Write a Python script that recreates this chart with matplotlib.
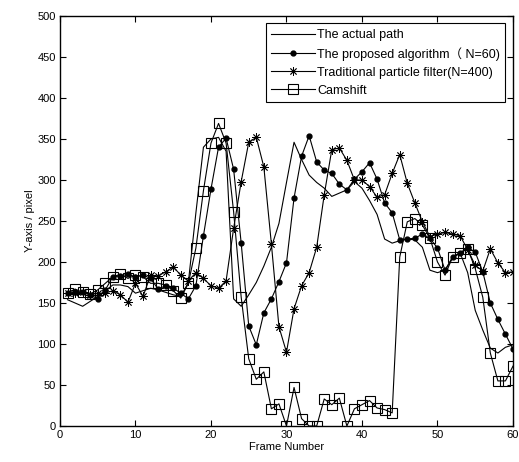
import matplotlib
matplotlib.use("Agg")
import matplotlib.pyplot as plt
import numpy as np

plt.rcParams['font.sans-serif'] = ['Liberation Sans']
plt.rcParams['font.family'] = ['sans-serif', 'Noto Sans CJK SC']

frames = list(range(1, 61))

actual_path = [154, 150, 146, 152, 158, 165, 172, 172, 170, 162,
               165, 168, 166, 163, 160, 158, 175, 260, 340, 350,
               352, 335, 155, 146, 160, 175, 195, 218, 247, 297,
               346, 325, 306, 297, 290, 280, 284, 288, 298, 290,
               275, 258, 228, 223, 226, 228, 227, 218, 190, 187,
               190, 205, 211, 187, 141, 117, 95, 89, 96, 99]

proposed = [162, 163, 164, 160, 155, 166, 182, 183, 185, 182,
            184, 180, 167, 171, 168, 162, 155, 171, 232, 289,
            340, 351, 313, 223, 122, 99, 138, 155, 176, 199,
            278, 329, 354, 322, 312, 308, 295, 288, 301, 310,
            321, 301, 272, 260, 227, 228, 229, 234, 229, 217,
            190, 206, 211, 218, 212, 188, 150, 130, 112, 94]

traditional = [162, 162, 163, 160, 162, 162, 165, 160, 151, 174,
               158, 184, 183, 188, 194, 184, 177, 187, 180, 171,
               168, 177, 241, 298, 346, 352, 316, 222, 121, 90,
               143, 171, 187, 218, 282, 337, 339, 324, 300, 300,
               292, 279, 282, 308, 331, 296, 272, 249, 231, 234,
               236, 234, 232, 215, 196, 189, 216, 199, 187, 188]

camshift = [162, 167, 163, 161, 166, 174, 182, 185, 180, 184,
            182, 174, 174, 172, 165, 156, 174, 217, 287, 345,
            369, 345, 261, 157, 82, 57, 66, 21, 27, 0,
            47, 9, 0, 0, 33, 26, 34, 0, 21, 26,
            31, 22, 20, 16, 206, 249, 253, 245, 229, 200,
            184, 206, 211, 216, 192, 157, 89, 55, 55, 73]

labels = ["The actual path", "The proposed algorithm（ N=60)",
          "Traditional particle filter(N=400)", "Camshift"]

fig = plt.figure(figsize=(5.19, 4.62), dpi=100)
ax = fig.add_axes([0.1156, 0.0779, 0.8728, 0.8875])

lw = 0.8
ax.plot(frames, actual_path, color='black', lw=lw, label=labels[0])
ax.plot(frames, proposed, color='black', lw=lw, marker='o', markersize=3.5,
        label=labels[1])
ax.plot(frames, traditional, color='black', lw=lw, marker=(8, 2, 0), markersize=6,
        markeredgewidth=0.6, label=labels[2])
ax.plot(frames, camshift, color='black', lw=lw, marker='s', markersize=7.5,
        markerfacecolor='none', markeredgewidth=0.8, label=labels[3])

ax.set_xlim(0, 60)
ax.set_ylim(0, 500)
ax.set_xticks(np.arange(0, 61, 10))
ax.set_yticks(np.arange(0, 501, 50))
ax.tick_params(direction='in', top=True, right=True, labelsize=8, length=4,
               width=0.8, pad=3)
for s in ax.spines.values():
    s.set_linewidth(1.0)

ax.set_xlabel("Frame Number", fontsize=8, labelpad=1)
ax.set_ylabel("Y-axis / pixel", fontsize=8, labelpad=2)

leg = ax.legend(loc='upper right', fontsize=9, numpoints=1, handlelength=3.5,
                fancybox=False, edgecolor='black', framealpha=1,
                borderaxespad=0.6, labelspacing=0.48, handletextpad=0.15,
                borderpad=0.45)
leg.get_frame().set_linewidth(0.8)

fig.savefig("out.png", dpi=100)
